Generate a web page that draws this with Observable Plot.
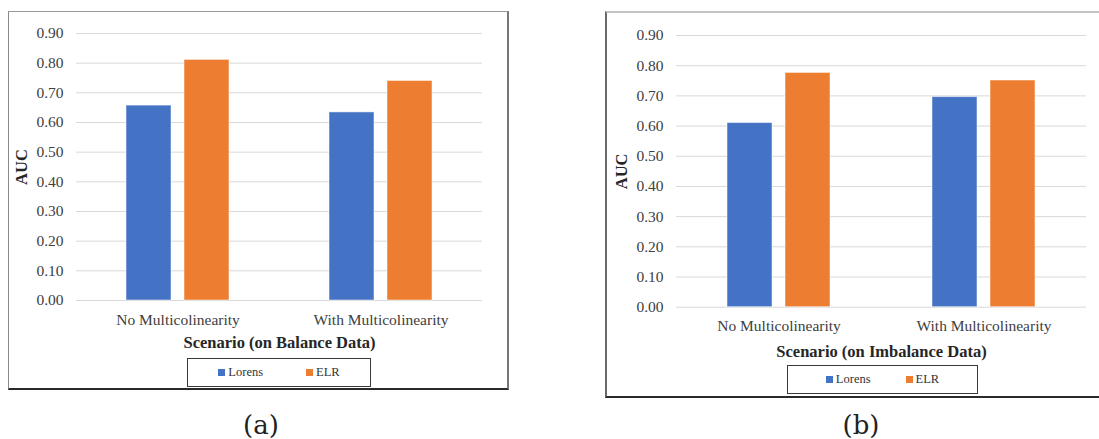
<!DOCTYPE html>
<html>
<head>
<meta charset="utf-8">
<script src="https://cdn.jsdelivr.net/npm/d3@7"></script>
<script src="https://cdn.jsdelivr.net/npm/@observablehq/plot@0.6"></script>
<style>
  html, body { margin: 0; padding: 0; background: #fff; }
  #page { position: relative; width: 1099px; height: 439px; overflow: hidden; background: #fff; }
  .box { position: absolute; box-sizing: border-box; }
  .chart { position: absolute; }
  .legend { position: absolute; box-sizing: border-box; border: 1.5px solid #3a3a3a; display: flex; align-items: center; justify-content: center;
            font-family: "Liberation Serif", serif; font-size: 12.5px; color: #333; }
  .legend .item { display: flex; align-items: center; }
  .legend .sw { width: 7px; height: 7px; margin-right: 3px; }
  .tag { position: absolute; width: 100px; text-align: center; font-family: "DejaVu Serif", serif; font-size: 26px; line-height: 30px; color: #222; }
</style>
</head>
<body>
<div id="page"></div>
<script>
// ---- data ----
const scenarios = ["No Multicolinearity", "With Multicolinearity"];
const models = ["Lorens", "ELR"];
const modelColors = ["#4472C4", "#ED7D31"];
const balanceLorens = [0.657, 0.634];
const balanceELR = [0.811, 0.740];
const imbalanceLorens = [0.610, 0.696];
const imbalanceELR = [0.776, 0.751];
const yTickValues = [0, 0.1, 0.2, 0.3, 0.4, 0.5, 0.6, 0.7, 0.8, 0.9];
const panelTitles = ["Scenario (on Balance Data)", "Scenario (on Imbalance Data)"];
const panelTags = ["(a)", "(b)"];

const page = document.getElementById("page");

function rowsFor(lorens, elr) {
  const series = [lorens, elr];
  return scenarios.flatMap((s, i) => models.map((m, j) => ({scenario: s, model: m, auc: series[j][i]})));
}

function addPanel(cfg) {
  const box = document.createElement("div");
  box.className = "box";
  Object.assign(box.style, cfg.boxStyle);
  page.appendChild(box);

  const rows = rowsFor(cfg.lorens, cfg.elr);
  const chart = Plot.plot({
    width: cfg.width,
    height: cfg.height,
    marginTop: cfg.marginTop,
    marginBottom: cfg.marginBottom,
    marginLeft: cfg.marginLeft,
    marginRight: cfg.marginRight,
    style: {fontFamily: "'Liberation Serif', serif", fontSize: "15.5px", background: "transparent", overflow: "visible"},
    fx: {domain: scenarios, padding: 0},
    x: {domain: models, paddingInner: 0.22, paddingOuter: 0.86, axis: null},
    y: {domain: [0, 0.9]},
    color: {domain: models, range: modelColors},
    marks: [
      Plot.gridY(yTickValues, {stroke: "#d9d9d9", strokeOpacity: 1, strokeWidth: 1}),
      Plot.axisY({ticks: yTickValues, tickFormat: d3.format(".2f"), tickSize: 0, tickPadding: 13, label: null, fill: "#404040", fontSize: 15.5}),
      Plot.axisY({ticks: [], label: "AUC", labelAnchor: "center", labelOffset: cfg.yLabelOffset, labelArrow: "none", fontWeight: "bold", fontSize: 16.5, fill: "#262626"}),
      Plot.axisFx({anchor: "bottom", tickSize: 0, tickPadding: cfg.fxTickPadding, label: null, fill: "#404040", fontSize: 15.5}),
      Plot.axisFx({anchor: "bottom", ticks: [], label: cfg.title, labelAnchor: "center", labelOffset: cfg.fxLabelOffset, labelArrow: "none", fontWeight: "bold", fontSize: 16.5, fill: "#262626"}),
      Plot.barY(rows, {fx: "scenario", x: "model", y: "auc", fill: "model", stroke: "#ffffff", strokeOpacity: 0.5, strokeWidth: 1})
    ]
  });
  chart.classList.add("chart");
  chart.style.left = cfg.left + "px";
  chart.style.top = cfg.top + "px";
  page.appendChild(chart);

  const lg = document.createElement("div");
  lg.className = "legend";
  Object.assign(lg.style, cfg.legendStyle);
  lg.style.gap = cfg.legendGap + "px";
  models.forEach((m, i) => {
    const it = document.createElement("div");
    it.className = "item";
    const sw = document.createElement("span");
    sw.className = "sw";
    sw.style.background = modelColors[i];
    const tx = document.createElement("span");
    tx.textContent = m;
    it.appendChild(sw); it.appendChild(tx);
    lg.appendChild(it);
  });
  page.appendChild(lg);

  const tag = document.createElement("div");
  tag.className = "tag";
  tag.textContent = cfg.tag;
  tag.style.left = (cfg.tagX - 50) + "px";
  tag.style.top = cfg.tagTop + "px";
  page.appendChild(tag);
}

addPanel({
  lorens: balanceLorens, elr: balanceELR, title: panelTitles[0], tag: panelTags[0],
  left: 8, top: 11, width: 500, height: 350,
  marginTop: 22, marginBottom: 61, marginLeft: 68, marginRight: 26,
  yLabelOffset: 61, fxTickPadding: 13.5, fxLabelOffset: 47,
  boxStyle: {left: "8px", top: "11px", width: "501px", height: "379px",
    borderLeft: "1px solid #8a8a8a", borderTop: "1px solid #9a9a9a", borderRight: "2px solid #777", borderBottom: "2px solid #2a2a2a"},
  legendStyle: {left: "187px", top: "358px", width: "184px", height: "29px"},
  legendGap: 43,
  tagX: 261, tagTop: 410
});

addPanel({
  lorens: imbalanceLorens, elr: imbalanceELR, title: panelTitles[1], tag: panelTags[1],
  left: 605, top: 11, width: 494, height: 360,
  marginTop: 24, marginBottom: 64.3, marginLeft: 70, marginRight: 13,
  yLabelOffset: 61, fxTickPadding: 13, fxLabelOffset: 50,
  boxStyle: {left: "605px", top: "11px", width: "520px", height: "387px",
    borderLeft: "2px solid #6a6a6a", borderTop: "2px solid #c4c4c4", borderBottom: "2px solid #2a2a2a"},
  legendStyle: {left: "787px", top: "365px", width: "191px", height: "29px"},
  legendGap: 35,
  tagX: 861, tagTop: 410
});
</script>
</body>
</html>
